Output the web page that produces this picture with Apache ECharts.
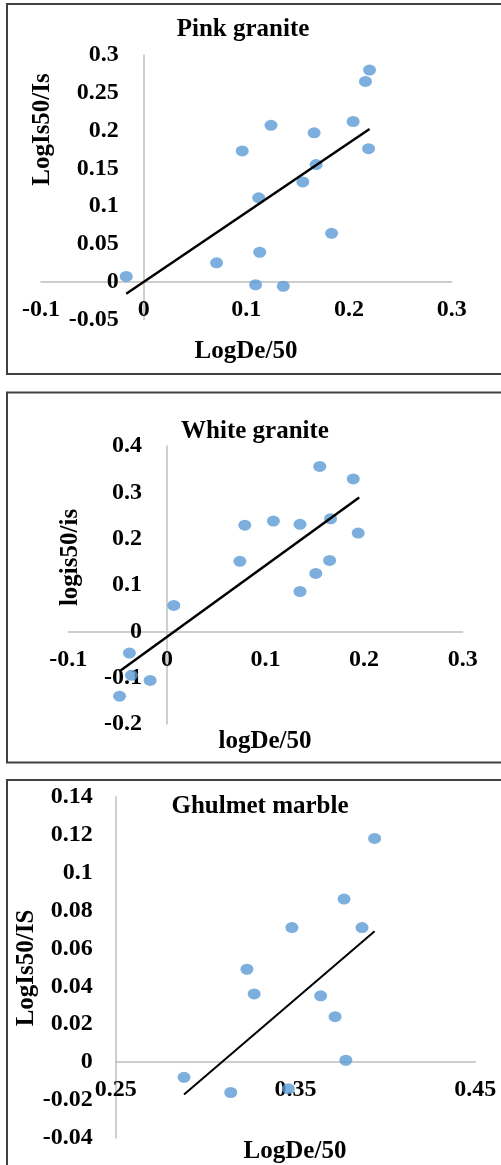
<!DOCTYPE html>
<html>
<head>
<meta charset="utf-8">
<script src="https://cdn.jsdelivr.net/npm/echarts@6/dist/echarts.min.js"></script>
<style>
  html, body { margin: 0; padding: 0; background: #fff; }
  #main { width: 501px; height: 1165px; }
</style>
</head>
<body>
<div id="main"></div>
<script>
// Pink granite
var pinkX = [-0.017, 0.071, 0.096, 0.124, 0.112, 0.113, 0.109, 0.136, 0.166, 0.168, 0.155, 0.183, 0.204, 0.216, 0.220, 0.219];
var pinkY = [0.007, 0.025, 0.173, 0.207, 0.111, 0.039, -0.004, -0.006, 0.197, 0.155, 0.132, 0.064, 0.212, 0.265, 0.280, 0.176];
var pinkTrendX = [-0.017, 0.220];
var pinkTrendY = [-0.016, 0.202];
var pinkXTicks = [-0.1, 0, 0.1, 0.2, 0.3];
var pinkYTicks = [-0.05, 0, 0.05, 0.1, 0.15, 0.2, 0.25, 0.3];

// White granite
var whiteX = [-0.048, -0.038, -0.036, -0.017, 0.007, 0.074, 0.079, 0.108, 0.135, 0.135, 0.151, 0.155, 0.166, 0.165, 0.189, 0.194];
var whiteY = [-0.140, -0.047, -0.095, -0.106, 0.056, 0.151, 0.229, 0.238, 0.231, 0.086, 0.125, 0.356, 0.243, 0.153, 0.329, 0.212];
var whiteTrendX = [-0.048, 0.195];
var whiteTrendY = [-0.086, 0.289];
var whiteXTicks = [-0.1, 0, 0.1, 0.2, 0.3];
var whiteYTicks = [-0.2, -0.1, 0, 0.1, 0.2, 0.3, 0.4];

// Ghulmet marble
var marbleX = [0.288, 0.314, 0.323, 0.327, 0.348, 0.346, 0.364, 0.372, 0.377, 0.378, 0.387, 0.394];
var marbleY = [-0.008, -0.016, 0.049, 0.036, 0.071, -0.014, 0.035, 0.024, 0.086, 0.001, 0.071, 0.118];
var marbleTrendX = [0.288, 0.394];
var marbleTrendY = [-0.017, 0.069];
var marbleXTicks = [0.25, 0.35, 0.45];
var marbleYTicks = [-0.04, -0.02, 0, 0.02, 0.04, 0.06, 0.08, 0.1, 0.12, 0.14];

var W = 501, H = 1165;
var serif = '"Liberation Serif", "Times New Roman", serif';
var dotColor = '#5b9bd5';

// plot boxes [left, top, right, bottom] in px
var boxes = [
  [41, 55, 451.7, 319.5],
  [68.3, 446, 462.7, 724],
  [115.7, 796.7, 475.3, 1138]
];

function zip(xs, ys) {
  return xs.map(function (x, i) { return [x, ys[i]]; });
}

// where zero sits inside the axis range, as a fraction (0 if not inside)
function zeroFrac(ticks) {
  var lo = ticks[0], hi = ticks[ticks.length - 1];
  if (lo >= 0 || hi <= 0) return 0;
  return (0 - lo) / (hi - lo);
}

function labelStyle(margin) {
  return { margin: margin, fontFamily: serif, fontWeight: 'bold', fontSize: 24, color: '#000' };
}

function xAxisOf(idx, ticks, yTicks) {
  var b = boxes[idx];
  return {
    type: 'value',
    gridIndex: idx,
    min: ticks[0],
    max: ticks[ticks.length - 1],
    interval: +(ticks[1] - ticks[0]).toFixed(4),
    offset: -zeroFrac(yTicks) * (b[3] - b[1]),
    axisLine: { onZero: false, lineStyle: { color: '#bfbfbf', width: 1.5 } },
    axisTick: { show: false },
    splitLine: { show: false },
    axisLabel: labelStyle(16)
  };
}

function yAxisOf(idx, ticks, xTicks, margin) {
  var b = boxes[idx];
  return {
    type: 'value',
    gridIndex: idx,
    min: ticks[0],
    max: ticks[ticks.length - 1],
    interval: +(ticks[1] - ticks[0]).toFixed(4),
    offset: -zeroFrac(xTicks) * (b[2] - b[0]),
    axisLine: { onZero: false, lineStyle: { color: '#bfbfbf', width: 1.5 } },
    axisTick: { show: false },
    splitLine: { show: false },
    axisLabel: labelStyle(margin)
  };
}

function scatterOf(idx, xs, ys) {
  return {
    type: 'scatter',
    xAxisIndex: idx,
    yAxisIndex: idx,
    data: zip(xs, ys),
    symbolSize: [13, 11],
    itemStyle: { color: dotColor },
    z: 3
  };
}

function trendOf(idx, xs, ys, w) {
  return {
    type: 'line',
    xAxisIndex: idx,
    yAxisIndex: idx,
    data: zip(xs, ys),
    showSymbol: false,
    lineStyle: { color: '#000', width: w },
    z: 4
  };
}

function titleOf(text, cx, top) {
  return {
    text: text,
    left: cx,
    top: top,
    padding: 0,
    textAlign: 'center',
    textStyle: { fontFamily: serif, fontWeight: 'bold', fontSize: 25, color: '#000' }
  };
}

function nameOf(text, x, y, rotated) {
  return {
    type: 'text',
    x: x,
    y: y,
    rotation: rotated ? Math.PI / 2 : 0,
    style: {
      text: text,
      font: 'bold 25px ' + serif,
      fill: '#000',
      align: 'center',
      verticalAlign: 'middle',
      textAlign: 'center',
      textVerticalAlign: 'middle'
    }
  };
}

function frameOf(x, y, w, h) {
  return {
    type: 'rect',
    shape: { x: x, y: y, width: w, height: h },
    style: { fill: 'none', stroke: '#404040', lineWidth: 2 },
    z: -1
  };
}

function gridOf(b) {
  return { left: b[0], top: b[1], right: W - b[2], bottom: H - b[3], outerBoundsMode: 'none' };
}

var myChart = echarts.init(document.getElementById('main'));

var option = {
  animation: false,
  title: [
    titleOf('Pink granite', 243, 17),
    titleOf('White granite', 255, 419),
    titleOf('Ghulmet marble', 260, 794)
  ],
  grid: boxes.map(gridOf),
  xAxis: [
    xAxisOf(0, pinkXTicks, pinkYTicks),
    xAxisOf(1, whiteXTicks, whiteYTicks),
    xAxisOf(2, marbleXTicks, marbleYTicks)
  ],
  yAxis: [
    yAxisOf(0, pinkYTicks, pinkXTicks, 25),
    yAxisOf(1, whiteYTicks, whiteXTicks, 25),
    yAxisOf(2, marbleYTicks, marbleXTicks, 23)
  ],
  graphic: [
    frameOf(7, 4, 520, 370),
    frameOf(7, 392.5, 520, 370),
    frameOf(7, 780, 520, 420),
    nameOf('LogIs50/Is', 43, 129.5, true),
    nameOf('logis50/is', 71, 557.5, true),
    nameOf('LogIs50/IS', 27, 968, true),
    nameOf('LogDe/50', 246, 352, false),
    nameOf('logDe/50', 265, 742, false),
    nameOf('LogDe/50', 295, 1152, false)
  ],
  series: [
    scatterOf(0, pinkX, pinkY),
    trendOf(0, pinkTrendX, pinkTrendY, 2.5),
    scatterOf(1, whiteX, whiteY),
    trendOf(1, whiteTrendX, whiteTrendY, 2.5),
    scatterOf(2, marbleX, marbleY),
    trendOf(2, marbleTrendX, marbleTrendY, 2)
  ]
};

myChart.setOption(option);
</script>
</body>
</html>
